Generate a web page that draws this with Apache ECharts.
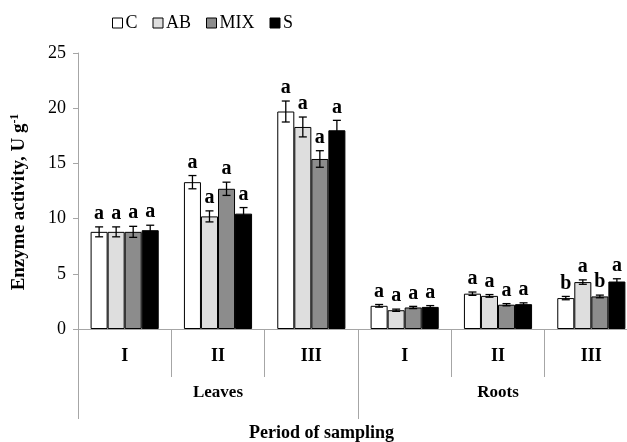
<!DOCTYPE html>
<html><head><meta charset="utf-8">
<script src="https://cdn.jsdelivr.net/npm/echarts@6/dist/echarts.min.js"></script>
<style>html,body{margin:0;padding:0;background:#fff;overflow:hidden}#c{width:640px;height:442px}</style>
</head><body><div id="c"></div>
<script>
const periods = ['I','II','III','I','II','III'];
const organs = ['Leaves','Roots'];
const seriesNames = ['C','AB','MIX','S'];
const valC   = [8.8, 13.3, 19.7, 2.1, 3.2, 2.8];
const valAB  = [8.8, 10.2, 18.3, 1.7, 3.0, 4.25];
const valMIX = [8.8, 12.7, 15.4, 1.95, 2.2, 2.95];
const valS   = [8.95, 10.45, 18.0, 2.0, 2.25, 4.3];
const errC   = [0.45, 0.6, 0.95, 0.12, 0.15, 0.15];
const errAB  = [0.45, 0.5, 0.9, 0.1, 0.12, 0.2];
const errMIX = [0.5, 0.6, 0.75, 0.1, 0.1, 0.12];
const errS   = [0.45, 0.55, 0.9, 0.12, 0.12, 0.25];
const letC   = ['a','a','a','a','a','b'];
const letAB  = ['a','a','a','a','a','a'];
const letMIX = ['a','a','a','a','a','b'];
const letS   = ['a','a','a','a','a','a'];
const yTicks = [0,5,10,15,20,25];

const vals = [valC, valAB, valMIX, valS];
const errs = [errC, errAB, errMIX, errS];
const lets = [letC, letAB, letMIX, letS];
const colors = ['#ffffff','#dedede','#8c8c8c','#000000'];
const GAP = 0.27;
const serif = '"Liberation Serif","Times New Roman",serif';

const series = [];
seriesNames.forEach((n,k)=>{
  series.push({
    name:n, type:'bar', data:vals[k], barGap:'0%', barCategoryGap:(GAP*100)+'%',
    itemStyle:{color:colors[k], borderColor:'#000', borderWidth:1},
    emphasis:{disabled:true}, z:2
  });
});
seriesNames.forEach((n,k)=>{
  series.push({
    name:n+'_err', type:'custom', z:5,
    data: vals[k].map((v,i)=>[i, v, errs[k][i]]),
    encode:{x:0,y:1},
    renderItem:function(params, api){
      const i = api.value(0), v = api.value(1), e = api.value(2);
      const band = api.size([1,0])[0];
      const bw = band*(1-GAP)/4;
      const off = (k-1.5)*bw;
      const t = api.coord([i, v+e]); const b = api.coord([i, v-e]);
      const x = t[0]+off;
      const cap = 4;
      const st = {stroke:'#000', lineWidth:1.3};
      return {type:'group', children:[
        {type:'line', shape:{x1:x,y1:t[1],x2:x,y2:b[1]}, style:st},
        {type:'line', shape:{x1:x-cap,y1:t[1],x2:x+cap,y2:t[1]}, style:st},
        {type:'line', shape:{x1:x-cap,y1:b[1],x2:x+cap,y2:b[1]}, style:st},
        {type:'text', style:{x:x, y:t[1]-3, text:lets[k][params.dataIndex], textAlign:'center', textVerticalAlign:'bottom',
          font:'bold 20px '+serif, fill:'#000'}}
      ]};
    }
  });
});

const chart = echarts.init(document.getElementById('c'), null, {renderer:'canvas'});
chart.setOption({
  animation:false,
  backgroundColor:'#fff',
  title:{text:'Period of sampling', left:244, top:419,
    textStyle:{fontFamily:serif, fontWeight:'bold', fontSize:18, color:'#000'}},
  legend:{data:seriesNames, left:107, top:9, icon:'rect', itemWidth:10, itemHeight:10, itemGap:15,
    itemStyle:{borderColor:'#000', borderWidth:1},
    textStyle:{fontFamily:serif, fontSize:18, color:'#000', padding:[0,0,0,-2]}},
  grid:{left:78, top:53, bottom:113, right:2, containLabel:false},
  xAxis:[
    {type:'category', data:periods, position:'bottom',
      axisLine:{lineStyle:{color:'#a6a6a6', width:1}},
      axisTick:{show:true, length:48, interval:0, lineStyle:{color:'#a6a6a6'}},
      axisLabel:{interval:0, margin:18, fontFamily:serif, fontWeight:'bold', fontSize:18, color:'#000'}},
    {type:'category', data:organs, position:'bottom',
      axisLine:{show:false},
      axisTick:{show:true, length:90, interval:0, lineStyle:{color:'#a6a6a6'}},
      axisLabel:{interval:0, margin:55, fontFamily:serif, fontWeight:'bold', fontSize:17, color:'#000'}}
  ],
  yAxis:{type:'value', min:0, max:25, interval:5,
    name:'{a|Enzyme activity, U g}{b|-1}', nameLocation:'middle', nameGap:48, nameRotate:90,
    nameTextStyle:{padding:[0,22,0,0], rich:{
      a:{fontFamily:serif, fontWeight:'bold', fontSize:19, color:'#000'},
      b:{fontFamily:serif, fontWeight:'bold', fontSize:12, color:'#000', padding:[0,0,9,0]}}},
    axisLine:{show:true, lineStyle:{color:'#a6a6a6'}},
    axisTick:{show:true, length:5, lineStyle:{color:'#a6a6a6'}},
    splitLine:{show:false},
    axisLabel:{margin:12, fontFamily:serif, fontSize:18, color:'#000',
      formatter:v=> yTicks.includes(v) ? String(v) : ''}},
  series:series
});
</script></body></html>
